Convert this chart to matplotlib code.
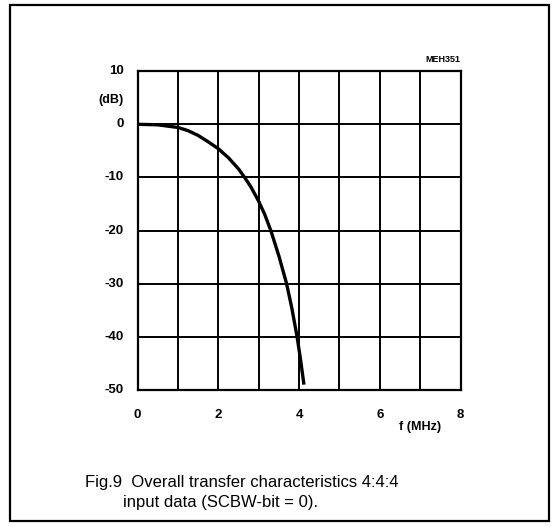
import matplotlib
matplotlib.use("Agg")
import matplotlib.pyplot as plt
from matplotlib.patches import Rectangle

plt.rcParams['font.family'] = ['Liberation Sans', 'DejaVu Sans']

freq_mhz = [0, 0.5, 1.0, 1.25, 1.5, 1.75, 2.0, 2.25, 2.5, 2.65, 2.8,
            3.0, 3.15, 3.3, 3.5, 3.69, 3.82, 3.95, 4.03, 4.12]
gain_db = [0, -0.1, -0.6, -1.2, -2.1, -3.3, -4.6, -6.3, -8.4, -10.0, -11.7,
           -14.5, -17.0, -20.0, -24.8, -30.0, -34.6, -40.0, -44.0, -49.0]

x_ticks = [0, 2, 4, 6, 8]
x_tick_labels = ['0', '2', '4', '6', '8']
y_ticks = [10, 0, -10, -20, -30, -40, -50]
y_tick_labels = ['10', '0', '-10', '-20', '-30', '-40', '-50']

fig = plt.figure(figsize=(5.57, 5.27), dpi=100)
ax = fig.add_axes([0.247, 0.260, 0.580, 0.605])

ax.plot(freq_mhz, gain_db, color='black', lw=2.4, solid_capstyle='butt',
        solid_joinstyle='round')
ax.set_xlim(0, 8)
ax.set_ylim(-50, 10)
ax.set_xticks(range(0, 9))
ax.set_yticks(range(-50, 11, 10))
ax.grid(True, color='black', lw=1.4)
ax.tick_params(length=0, labelbottom=False, labelleft=False)
for s in ax.spines.values():
    s.set_linewidth(1.6)

for v, lab in zip(x_ticks, x_tick_labels):
    ax.annotate(lab, xy=(v, 0), xycoords=('data', 'axes fraction'),
                xytext=(0, -18), textcoords='offset points',
                ha='center', va='center', fontsize=9.5, fontweight='bold')
for v, lab in zip(y_ticks, y_tick_labels):
    ax.annotate(lab, xy=(0, v), xycoords=('axes fraction', 'data'),
                xytext=(-10, 0), textcoords='offset points',
                ha='right', va='center', fontsize=9.5, fontweight='bold')

ax.annotate('(dB)', xy=(0, 5), xycoords=('axes fraction', 'data'),
            xytext=(-10, -2), textcoords='offset points',
            ha='right', va='center', fontsize=9, fontweight='bold')
ax.annotate('f (MHz)', xy=(7, 0), xycoords=('data', 'axes fraction'),
            xytext=(0, -27), textcoords='offset points',
            ha='center', va='center', fontsize=9, fontweight='bold')
ax.annotate('MEH351', xy=(1, 1), xycoords='axes fraction',
            xytext=(0, 5), textcoords='offset points',
            ha='right', va='bottom', fontsize=6.5, fontweight='bold')

fig.patches.append(Rectangle((10 / 557, 1 - 521 / 527), 539 / 557, 516 / 527,
                             transform=fig.transFigure, fill=False,
                             edgecolor='black', lw=1.6))

fig.text(85 / 557, 1 - 483 / 527, 'Fig.9  Overall transfer characteristics 4:4:4',
         ha='left', va='center', fontsize=12)
fig.text(123 / 557, 1 - 503 / 527, 'input data (SCBW-bit = 0).',
         ha='left', va='center', fontsize=12)

fig.savefig('out.png', dpi=100)
